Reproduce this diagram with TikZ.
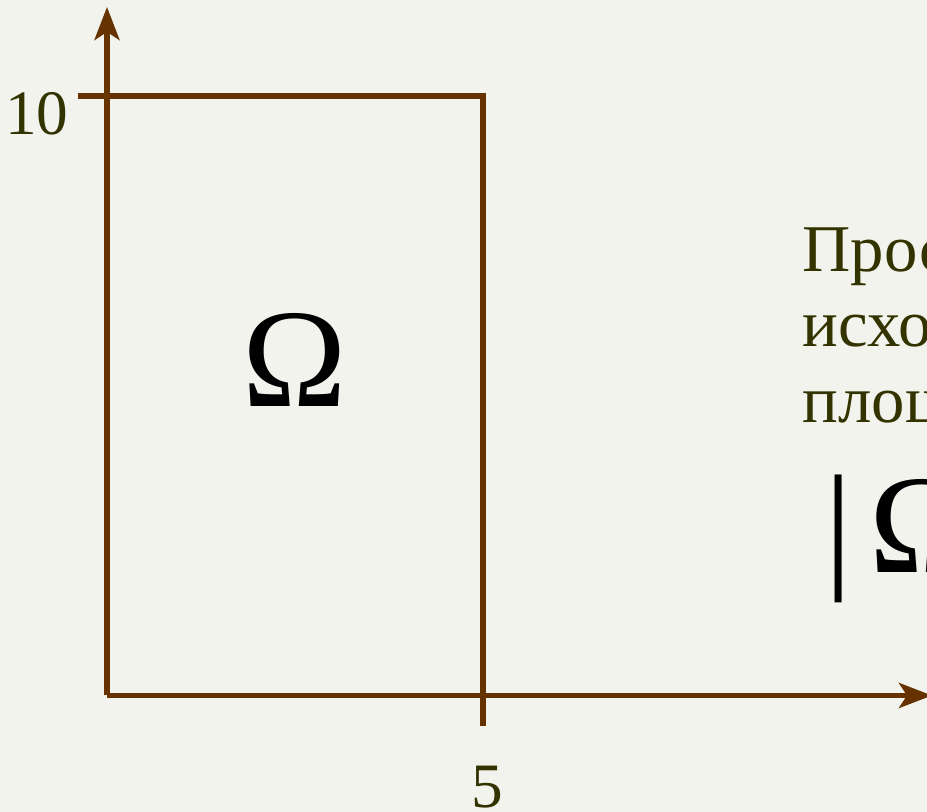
\documentclass[tikz,border=0pt]{standalone}
\usepackage{fontspec}
\setmainfont{Liberation Serif}
\usetikzlibrary{arrows.meta}
\definecolor{AxisBrown}{HTML}{663300}
\definecolor{LabelOlive}{HTML}{333300}
\definecolor{PaperBg}{HTML}{F3F3EE}

\begin{document}
\begin{tikzpicture}[
  >={Stealth[length=3.3mm,width=2.5mm,inset=0.8mm]},
  axis line/.style={draw=AxisBrown,line width=1.5pt},
  tick label/.style={font=\fontsize{18}{22}\selectfont,text=LabelOlive,inner sep=0pt},
  body text/.style={font=\fontsize{19}{23}\selectfont,text=LabelOlive,inner sep=0pt,anchor=base west},
  big omega/.style={font=\fontsize{40}{48}\selectfont,text=black,inner sep=0pt,anchor=base}
]

% Page, background and clipping of the slide crop.
\useasboundingbox (0,0) rectangle (9.27,8.12);
\fill[PaperBg] (0,0) rectangle (9.27,8.12);
\clip (0,0) rectangle (9.27,8.12);

% Points of the axes and of the rectangle.
\coordinate (O) at (1.07,1.165);
\coordinate (ytip) at (1.07,8.05);
\coordinate (xtip) at (9.32,1.165);
\coordinate (tick10) at (0.78,7.16);
\coordinate (corner) at (4.83,7.16);
\coordinate (tick5) at (4.83,0.86);

% Axes.
\draw[axis line,->] (O) -- (ytip);
\draw[axis line,->] (O) -- (xtip);

% Top and right side of the rectangle, running past the axes as ticks.
\draw[axis line] (tick10) -- (corner) -- (tick5);

% Tick labels.
\node[tick label,anchor=base east] (lab10) at (0.69,6.77) {10};
\node[tick label,anchor=base] (lab5) at (4.87,0.04) {5};

% The sample space.
\node[big omega] (omega) at (2.95,4.05) {Ω};

% Text on the right (cut by the edge of the slide).
\node[body text] (line1) at (8.02,5.40) {Пространство};
\node[body text] (line2) at (8.02,4.65) {исходов};
\node[body text] (line3) at (8.02,3.89) {площадь};
\node[big omega,anchor=base west] (area) at (8.24,2.39) {|\hspace{0.12em}Ω|};

\end{tikzpicture}
\end{document}
